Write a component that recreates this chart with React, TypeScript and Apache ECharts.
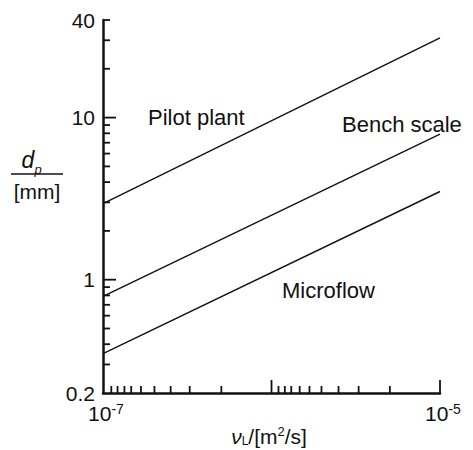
import React, { useEffect, useRef } from "react";
import * as echarts from "echarts";

// ---- data ----
const xRange = [1e-7, 1e-5];
const yRange = [0.2, 40];
const xLabelValues = [1e-7, 1e-5];
const yLabelValues = [0.2, 1, 10, 40];

const seriesNames = ["Pilot plant", "Bench scale", "Microflow"];
const pilotPlant = [[1e-7, 2.95], [1e-5, 31]];
const benchScale = [[1e-7, 0.79], [1e-5, 7.9]];
const microflow = [[1e-7, 0.35], [1e-5, 3.5]];

const xMajorTicks = [1e-6, 1e-5];
const xMinorTicks = [
  1.12e-7, 1.22e-7, 1.34e-7, 1.47e-7, 1.68e-7, 2.02e-7, 2.52e-7, 3.27e-7, 5.04e-7,
  1.1e-6, 1.2e-6, 1.31e-6, 1.47e-6, 1.68e-6, 1.98e-6, 2.5e-6, 3.29e-6, 5.04e-6,
];
const yMajorTicks = [1, 10];
const yMinorTicks = [0.3, 0.4, 0.5, 0.6, 0.7, 0.8, 0.9, 2, 3, 4, 5, 6, 7, 8, 9, 20, 30, 40];

const FONT = "Liberation Sans, Arial, Helvetica, sans-serif";
const INK = "#111";

export default function App() {
  const ref = useRef<HTMLDivElement>(null);

  useEffect(() => {
    if (!ref.current) return;
    const chart = echarts.init(ref.current, undefined, { renderer: "svg" });

    const tickData: number[][] = [];
    xMajorTicks.forEach((v) => tickData.push([v, yRange[0], 13, 0]));
    xMinorTicks.forEach((v) => tickData.push([v, yRange[0], 7, 0]));
    yMajorTicks.forEach((v) => tickData.push([xRange[0], v, 13, 1]));
    yMinorTicks.forEach((v) => tickData.push([xRange[0], v, 7, 1]));

    const lineSeries = [pilotPlant, benchScale, microflow].map((d, i) => ({
      name: seriesNames[i],
      type: "line",
      data: d,
      showSymbol: false,
      silent: true,
      lineStyle: { color: INK, width: 1.4 },
    }));

    chart.setOption({
      animation: false,
      backgroundColor: "#fff",
      textStyle: { fontFamily: FONT },
      grid: { left: 103, right: 33, top: 20, bottom: 57, containLabel: false },
      xAxis: {
        type: "log",
        logBase: 10,
        min: xRange[0],
        max: xRange[1],
        axisLine: { lineStyle: { color: INK, width: 2.5 } },
        axisTick: { show: false },
        minorTick: { show: false },
        splitLine: { show: false },
        axisLabel: {
          customValues: xLabelValues,
          margin: 9,
          color: INK,
          padding: [0, 0, 0, 6],
          formatter: (v: number) => {
            const e = Math.round(Math.log10(v));
            return `{a|10}{b|${e}}`;
          },
          rich: {
            a: { fontSize: 21, fontFamily: FONT, color: INK, lineHeight: 22, verticalAlign: "bottom" },
            b: { fontSize: 14, fontFamily: FONT, color: INK, lineHeight: 22, verticalAlign: "top" },
          },
        },
      },
      yAxis: {
        type: "log",
        logBase: 10,
        min: yRange[0],
        max: yRange[1],
        axisLine: { lineStyle: { color: INK, width: 2.5 } },
        axisTick: { show: false },
        minorTick: { show: false },
        splitLine: { show: false },
        axisLabel: {
          customValues: yLabelValues,
          margin: 8,
          color: INK,
          fontSize: 21,
          fontFamily: FONT,
          showMinLabel: true,
          showMaxLabel: true,
          formatter: (v: number) => String(Number(v.toPrecision(3))),
        },
      },
      series: [
        ...lineSeries,
        {
          type: "custom",
          silent: true,
          clip: false,
          data: tickData,
          encode: { x: 0, y: 1 },
          renderItem: (params: any, api: any) => {
            const p = api.coord([api.value(0), api.value(1)]);
            const len = api.value(2);
            const dir = api.value(3);
            const shape =
              dir === 0
                ? { x1: p[0], y1: p[1], x2: p[0], y2: p[1] - len }
                : { x1: p[0], y1: p[1], x2: p[0] + len, y2: p[1] };
            return { type: "line", shape, style: { stroke: INK, lineWidth: 1.8 } };
          },
        },
      ],
      graphic: [
        { type: "text", x: 148, y: 117, style: { text: seriesNames[0], font: `22px ${FONT}`, fill: INK, align: "left", verticalAlign: "middle" } },
        { type: "text", x: 342, y: 124, style: { text: seriesNames[1], font: `22px ${FONT}`, fill: INK, align: "left", verticalAlign: "middle" } },
        { type: "text", x: 282, y: 290, style: { text: seriesNames[2], font: `22px ${FONT}`, fill: INK, align: "left", verticalAlign: "middle" } },
        { type: "text", x: 28, y: 160, style: { text: "d", font: `italic 23px ${FONT}`, fill: INK, align: "center", verticalAlign: "middle" } },
        { type: "text", x: 38, y: 169, style: { text: "p", font: `italic 13px ${FONT}`, fill: INK, align: "center", verticalAlign: "middle" } },
        { type: "line", shape: { x1: 11, y1: 174, x2: 63, y2: 174 }, style: { stroke: INK, lineWidth: 1.3 } },
        { type: "text", x: 37, y: 191, style: { text: "[mm]", font: `21px ${FONT}`, fill: INK, align: "center", verticalAlign: "middle" } },
        {
          type: "text",
          x: 269,
          y: 436,
          style: {
            text: "{v|ν}{s|L}{t|/[m}{u|2}{t|/s]}",
            align: "center",
            verticalAlign: "middle",
            fill: INK,
            rich: {
              v: { font: `italic 21px ${FONT}`, fill: INK, lineHeight: 22, verticalAlign: "middle" },
              s: { font: `12px ${FONT}`, fill: INK, lineHeight: 22, verticalAlign: "bottom" },
              t: { font: `21px ${FONT}`, fill: INK, lineHeight: 22, verticalAlign: "middle" },
              u: { font: `13px ${FONT}`, fill: INK, lineHeight: 22, verticalAlign: "top" },
            },
          },
        },
      ],
    });

    return () => chart.dispose();
  }, []);

  return (
    <div
      ref={ref}
      style={{ position: "absolute", left: 0, top: 0, width: 473, height: 450, background: "#fff" }}
    />
  );
}
